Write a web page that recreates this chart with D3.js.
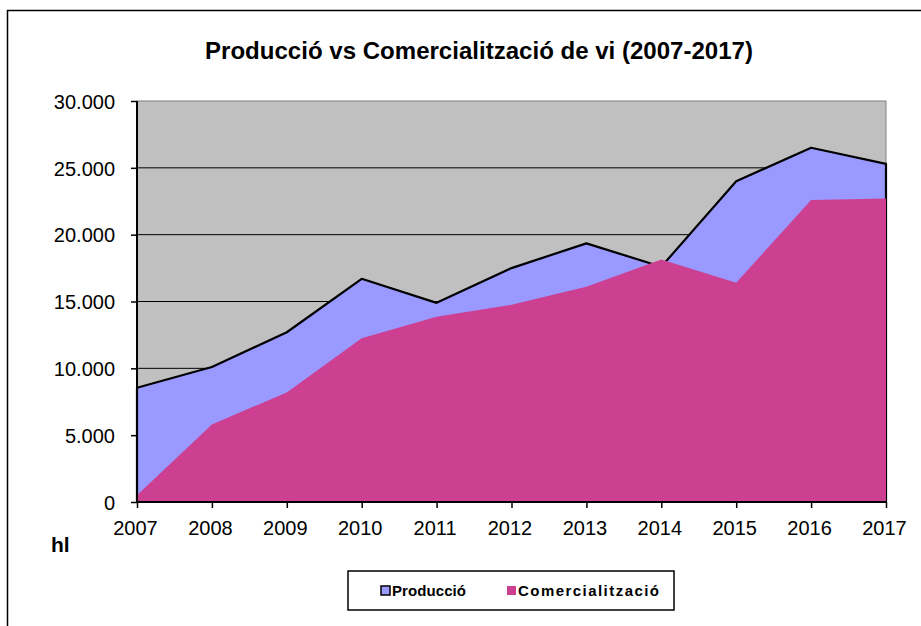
<!DOCTYPE html>
<html>
<head>
<meta charset="utf-8">
<script src="https://cdn.jsdelivr.net/npm/d3@7"></script>
<style>
  body { margin: 0; background: #fff; }
  svg { font-family: Arial, "Liberation Sans", sans-serif; }
</style>
</head>
<body>
<div id="chart"></div>
<script>
var years = [2007, 2008, 2009, 2010, 2011, 2012, 2013, 2014, 2015, 2016, 2017];
var produccio = [8550, 10100, 12700, 16700, 14900, 17500, 19350, 17600, 24000, 26500, 25300];
var comercialitzacio = [500, 5800, 8200, 12250, 13850, 14750, 16100, 18150, 16400, 22600, 22700];
var yTicks = [0, 5000, 10000, 15000, 20000, 25000, 30000];
var seriesNames = ["Producció", "Comercialització"];
var colors = ["#9999ff", "#cc3f91"];

var W = 921, H = 626;
var margin = { top: 101, left: 137, right: 35, bottom: 124 },
    width = W - margin.left - margin.right,
    height = H - margin.top - margin.bottom;

var svg = d3.select("#chart").append("svg")
    .attr("width", W)
    .attr("height", H);

// chart frame
svg.append("rect")
    .attr("x", 7.5).attr("y", 10.5)
    .attr("width", 930).attr("height", 640)
    .attr("fill", "none").attr("stroke", "#000").attr("stroke-width", 1.5);

svg.append("text")
    .attr("x", 479).attr("y", 59)
    .attr("text-anchor", "middle")
    .attr("font-size", 24.5).attr("font-weight", "bold")
    .attr("textLength", 548).attr("lengthAdjust", "spacingAndGlyphs")
    .text("Producció vs Comercialització de vi (2007-2017)");

var canvas = svg.append("g")
    .attr("transform", "translate(" + margin.left + "," + margin.top + ")");

var x = d3.scaleLinear().domain([2007, 2017]).range([0, width]);
var y = d3.scaleLinear().domain([0, 30000]).range([height, 0]);

canvas.append("rect")
    .attr("width", width).attr("height", height)
    .attr("fill", "#c0c0c0")
    .attr("stroke", "#808080").attr("stroke-width", 1);

// grid lines
canvas.selectAll(".grid")
    .data(yTicks.filter(function (d) { return d > 0 && d < 30000; }))
    .enter().append("line")
    .attr("x1", 0).attr("x2", width)
    .attr("y1", function (d) { return y(d); })
    .attr("y2", function (d) { return y(d); })
    .attr("stroke", "#000").attr("stroke-width", 1);

var area = function (vals) {
    return d3.area()
        .x(function (d, i) { return x(years[i]); })
        .y0(y(0))
        .y1(function (d) { return y(d); })(vals);
};

canvas.append("path")
    .attr("d", area(produccio))
    .attr("fill", colors[0])
    .attr("stroke", "#000").attr("stroke-width", 2.2)
    .attr("stroke-linejoin", "round");

canvas.append("path")
    .attr("d", area(comercialitzacio))
    .attr("fill", colors[1]);

// axes
var yAxis = d3.axisLeft(y).tickValues(yTicks).tickSize(6)
    .tickFormat(function (d) { return d3.format(",")(d).replace(/,/g, "."); });
var yg = canvas.append("g").call(yAxis);
yg.select(".domain").attr("stroke-width", 2).attr("d", "M0," + height + "V0");
yg.selectAll(".tick line").attr("stroke-width", 1.5);
yg.selectAll(".tick text")
    .attr("x", -22).attr("dy", "0.36em")
    .attr("font-size", 20).attr("fill", "#000")
    .attr("font-family", "Arial, 'Liberation Sans', sans-serif");

var xAxis = d3.axisBottom(x).tickValues(years).tickSize(6).tickFormat(d3.format("d"));
var xg = canvas.append("g").attr("transform", "translate(0," + height + ")").call(xAxis);
xg.select(".domain").attr("stroke-width", 2).attr("d", "M0,0H" + width);
xg.selectAll(".tick line").attr("stroke-width", 1.5);
xg.selectAll(".tick text")
    .attr("x", -2).attr("y", 19).attr("dy", "0.71em")
    .attr("font-size", 20).attr("fill", "#000")
    .attr("font-family", "Arial, 'Liberation Sans', sans-serif");

svg.append("text")
    .attr("x", 51).attr("y", 552)
    .attr("font-size", 21).attr("font-weight", "bold")
    .text("hl");

// legend
var lg = svg.append("g").attr("transform", "translate(348,571)");
lg.append("rect")
    .attr("width", 326).attr("height", 39)
    .attr("fill", "#fff").attr("stroke", "#000").attr("stroke-width", 1.5);
var items = lg.selectAll(".item")
    .data(seriesNames)
    .enter().append("g")
    .attr("transform", function (d, i) { return "translate(" + (i === 0 ? 33 : 159) + ",20)"; });
items.append("rect")
    .attr("x", 0).attr("y", -5).attr("width", 9).attr("height", 9)
    .attr("fill", function (d, i) { return colors[i]; })
    .attr("stroke", function (d, i) { return i === 0 ? "#000" : "none"; })
    .attr("stroke-width", 1.5);
items.append("text")
    .attr("x", 11).attr("dy", "0.36em")
    .attr("font-size", 15).attr("font-weight", "bold")
    .attr("textLength", function (d, i) { return i === 0 ? 74 : 141; })
    .attr("lengthAdjust", "spacing")
    .text(function (d) { return d; });
</script>
</body>
</html>
